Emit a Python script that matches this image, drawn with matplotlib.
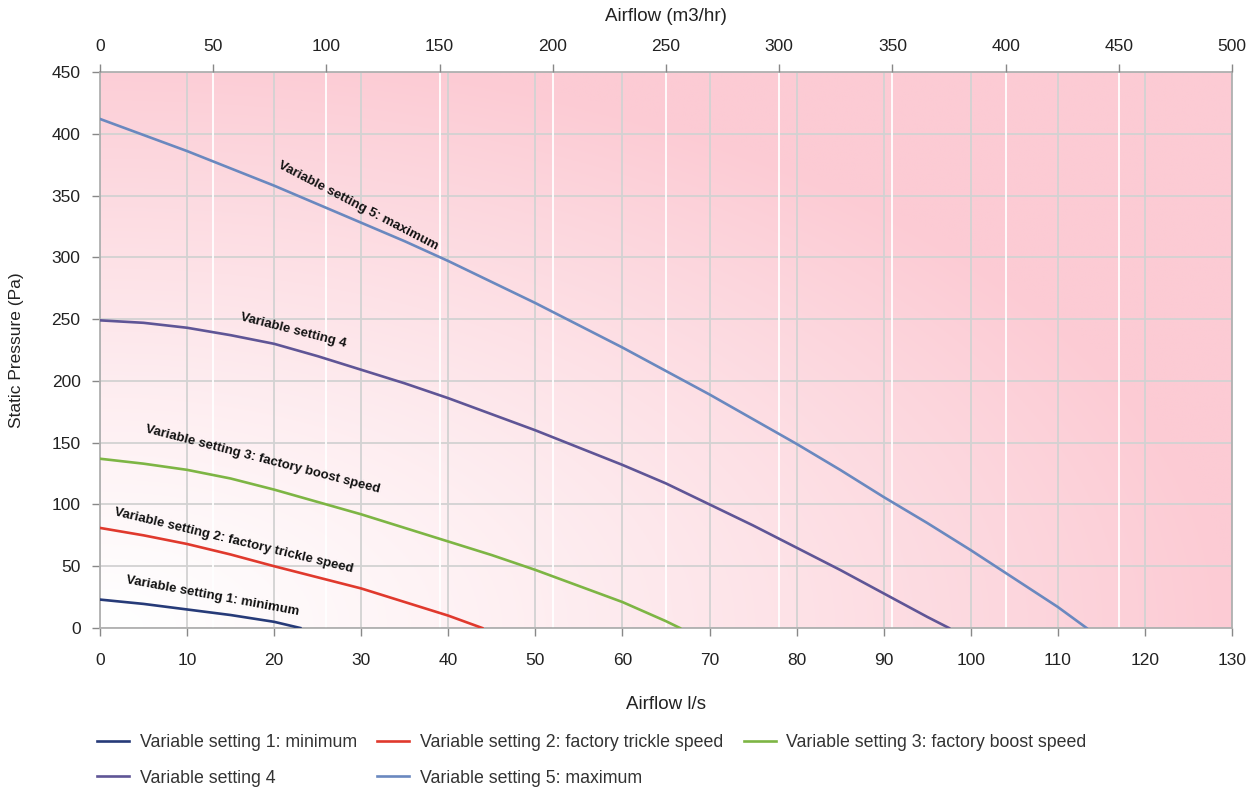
import numpy as np
import matplotlib.pyplot as plt

# axis ticks
flow_ticks = list(range(0, 131, 10))      # l/s
m3hr_ticks = list(range(0, 501, 50))      # m3/hr (top axis)
pa_ticks = list(range(0, 451, 50))        # Pa

# fan curves (airflow l/s, static pressure Pa)
s1_x = [0, 5, 10, 15, 20, 23]
s1_y = [23, 19.5, 15, 10.5, 5, 0]
s2_x = [0, 5, 10, 15, 20, 25, 30, 35, 40, 43.9]
s2_y = [81, 75, 68, 59.5, 50, 41, 32, 21, 10, 0]
s3_x = [0, 5, 10, 15, 20, 25, 30, 35, 40, 45, 50, 55, 60, 65, 66.6]
s3_y = [137, 133, 128, 121, 112, 102, 92, 81, 70, 59, 47, 34, 21, 5.5, 0]
s4_x = [0, 5, 10, 15, 20, 25, 30, 35, 40, 45, 50, 55, 60, 65, 70, 75, 80, 85, 90, 95, 97.5]
s4_y = [249, 247, 243, 237, 230, 220, 209, 198, 186, 173, 160, 146, 132, 117, 100, 83,
        65, 47, 28, 9, 0]
s5_x = [0, 5, 10, 15, 20, 25, 30, 35, 40, 45, 50, 55, 60, 65, 70, 75, 80, 85, 90, 95,
        100, 105, 110, 113.3]
s5_y = [412, 399, 386, 372, 358, 343, 328, 313, 297, 280, 263, 245, 227, 208, 189, 169,
        149, 128, 106, 85, 63, 40, 17, 0]

names = ['Variable setting 1: minimum',
         'Variable setting 2: factory trickle speed',
         'Variable setting 3: factory boost speed',
         'Variable setting 4',
         'Variable setting 5: maximum']
colors = ['#263a78', '#e0392d', '#7db544', '#5f5596', '#6a88bf']

plt.rcParams['font.family'] = ['Liberation Sans', 'DejaVu Sans']
text_col = '#222222'
grid_col = '#d2d2d2'

fig = plt.figure(figsize=(12.56, 7.89), dpi=100)
ax = fig.add_axes([100 / 1256, 1 - 628 / 789, 1132 / 1256, 556 / 789])
ax.set_xlim(0, 130)
ax.set_ylim(0, 450)

# pink gradient background, white at bottom left
u = np.linspace(0, 1, 400)
v = np.linspace(0, 1, 300)
U, V = np.meshgrid(u, v)
t = np.clip(np.sqrt(U ** 2 + (V * 0.95) ** 2), 0, 1) ** 1.2
pink = np.array([252, 203, 212]) / 255.0
img = (1 - t[..., None]) * np.ones(3) + t[..., None] * pink
ax.imshow(img, extent=[0, 130, 0, 450], origin='lower', aspect='auto', zorder=0)

# grids: gray at l/s and Pa ticks, white at m3/hr ticks
for x in flow_ticks:
    ax.axvline(x, color=grid_col, lw=1.3, zorder=1)
for y in pa_ticks:
    ax.axhline(y, color=grid_col, lw=1.3, zorder=1)
for m in m3hr_ticks[1:-1]:
    ax.axvline(m * 130 / 500, color='white', lw=1.3, zorder=1.5)

series = [(s1_x, s1_y), (s2_x, s2_y), (s3_x, s3_y), (s4_x, s4_y), (s5_x, s5_y)]
lines = []
for (xs, ys), c, n in zip(series, colors, names):
    ln, = ax.plot(xs, ys, color=c, lw=1.9, label=n, zorder=3, solid_joinstyle='round')
    lines.append(ln)

# labels on curves
lab_pos = [(12.9, 26, -10.5), (15.3, 70.5, -13.5), (18.7, 136, -14.5),
           (22.2, 240.5, -14.3), (29.6, 341.5, -27.5)]
for (x, y, r), n in zip(lab_pos, names):
    ax.text(x, y, n, rotation=r, rotation_mode='anchor', ha='center', va='center',
            fontsize=9.5, fontweight='bold', color='#111111', zorder=4)

for s in ax.spines.values():
    s.set_color('#b0b0b0')
    s.set_linewidth(1.3)

ax.set_xticks(flow_ticks)
ax.set_yticks(pa_ticks)
ax.tick_params(axis='x', length=6, width=1, color='#888888', pad=12,
               labelsize=12.5, labelcolor=text_col)
ax.tick_params(axis='y', length=6, width=1, color='#888888', pad=8,
               labelsize=12.5, labelcolor=text_col)
ax.set_xlabel('Airflow l/s', fontsize=13.5, color=text_col, labelpad=20)
ax.set_ylabel('Static Pressure (Pa)', fontsize=12.5, color=text_col, labelpad=20)

ax2 = ax.twiny()
ax2.set_xlim(0, 500)
ax2.set_xticks(m3hr_ticks)
ax2.tick_params(axis='x', length=6, width=1, color='#888888', pad=7,
                labelsize=12.5, labelcolor=text_col)
ax2.set_xlabel('Airflow (m3/hr)', fontsize=13.5, color=text_col, labelpad=13)
for s in ax2.spines.values():
    s.set_visible(False)

# legend is row-major in the picture, matplotlib fills columns first
order = [0, 3, 1, 4, 2]
fig.legend([lines[i] for i in order], [names[i] for i in order],
           ncol=3, loc='upper left', bbox_to_anchor=(81 / 1256, 1 - 718 / 789),
           frameon=False, fontsize=12.8, handlelength=1.8, handletextpad=0.6,
           columnspacing=1.15, labelspacing=1.05, labelcolor='#333333')

fig.savefig('out.png', dpi=100)
